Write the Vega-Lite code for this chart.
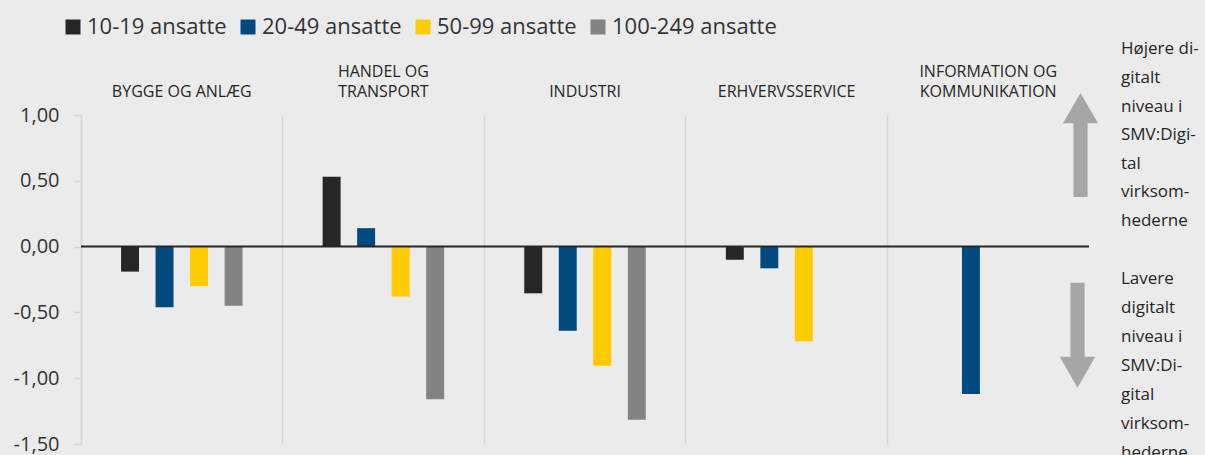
{
  "$schema": "https://vega.github.io/schema/vega-lite/v6.json",
  "width": 1008,
  "height": 329,
  "autosize": {"type": "none"},
  "padding": {"left": 81, "top": 115, "right": 116, "bottom": 11},
  "background": "#ebebeb",
  "config": {"view": {"stroke": null}, "font": "Open Sans"},
  "layer": [
    {
      "data": {
        "values": [
          {"sektor": "BYGGE OG ANLÆG", "gruppe": "10-19 ansatte", "vaerdi": -0.19},
          {"sektor": "BYGGE OG ANLÆG", "gruppe": "20-49 ansatte", "vaerdi": -0.46},
          {"sektor": "BYGGE OG ANLÆG", "gruppe": "50-99 ansatte", "vaerdi": -0.30},
          {"sektor": "BYGGE OG ANLÆG", "gruppe": "100-249 ansatte", "vaerdi": -0.45},
          {"sektor": "HANDEL OG TRANSPORT", "gruppe": "10-19 ansatte", "vaerdi": 0.53},
          {"sektor": "HANDEL OG TRANSPORT", "gruppe": "20-49 ansatte", "vaerdi": 0.14},
          {"sektor": "HANDEL OG TRANSPORT", "gruppe": "50-99 ansatte", "vaerdi": -0.38},
          {"sektor": "HANDEL OG TRANSPORT", "gruppe": "100-249 ansatte", "vaerdi": -1.16},
          {"sektor": "INDUSTRI", "gruppe": "10-19 ansatte", "vaerdi": -0.355},
          {"sektor": "INDUSTRI", "gruppe": "20-49 ansatte", "vaerdi": -0.64},
          {"sektor": "INDUSTRI", "gruppe": "50-99 ansatte", "vaerdi": -0.905},
          {"sektor": "INDUSTRI", "gruppe": "100-249 ansatte", "vaerdi": -1.315},
          {"sektor": "ERHVERVSSERVICE", "gruppe": "10-19 ansatte", "vaerdi": -0.10},
          {"sektor": "ERHVERVSSERVICE", "gruppe": "20-49 ansatte", "vaerdi": -0.165},
          {"sektor": "ERHVERVSSERVICE", "gruppe": "50-99 ansatte", "vaerdi": -0.72},
          {"sektor": "INFORMATION OG KOMMUNIKATION", "gruppe": "10-19 ansatte", "vaerdi": 0.0},
          {"sektor": "INFORMATION OG KOMMUNIKATION", "gruppe": "20-49 ansatte", "vaerdi": -1.12}
        ]
      },
      "mark": {"type": "bar"},
      "encoding": {
        "x": {
          "field": "sektor",
          "type": "nominal",
          "sort": null,
          "scale": {"paddingInner": 0, "paddingOuter": 0},
          "axis": {
            "orient": "top",
            "title": null,
            "domain": false,
            "ticks": false,
            "tickSize": 0,
            "grid": true,
            "gridColor": "#d6d6d6",
            "gridWidth": 1.5,
            "bandPosition": 0,
            "labelAngle": 0,
            "labelFontSize": 16,
            "labelColor": "#262626",
            "labelPadding": {"condition": {"test": "length(datum.value) > 16", "value": 36}, "value": 16},
            "labelBaseline": "bottom",
            "labelLineHeight": 20,
            "labelLimit": 0,
            "labelExpr": "length(datum.value) > 16 && indexof(datum.value, ' OG ') > 0 ? [substring(datum.value, 0, indexof(datum.value, ' OG ') + 3), substring(datum.value, indexof(datum.value, ' OG ') + 4)] : datum.value"
          }
        },
        "xOffset": {
          "field": "gruppe",
          "type": "nominal",
          "scale": {
            "domain": ["_før", "10-19 ansatte", "20-49 ansatte", "50-99 ansatte", "100-249 ansatte", "_efter"],
            "paddingInner": 0.48,
            "paddingOuter": 0.16
          }
        },
        "y": {
          "field": "vaerdi",
          "type": "quantitative",
          "scale": {"domain": [-1.5, 1], "nice": false, "zero": false},
          "axis": {
            "title": null,
            "values": [-1.5, -1, -0.5, 0, 0.5, 1],
            "grid": false,
            "domainColor": "#d6d6d6",
            "domainWidth": 1.5,
            "tickColor": "#d6d6d6",
            "tickWidth": 1.5,
            "tickSize": 8,
            "labelFontSize": 20,
            "labelColor": "#333333",
            "labelPadding": 14,
            "labelExpr": "replace(replace(format(datum.value, '.2f'), '.', ','), '\u2212', '-')"
          }
        },
        "color": {
          "field": "gruppe",
          "type": "nominal",
          "scale": {
            "domain": ["10-19 ansatte", "20-49 ansatte", "50-99 ansatte", "100-249 ansatte"],
            "range": ["#262626", "#004a80", "#ffca00", "#838383"]
          },
          "legend": {
            "title": null,
            "orient": "none",
            "direction": "horizontal",
            "legendX": -19,
            "legendY": -99,
            "padding": 0,
            "symbolType": "square",
            "symbolSize": 225,
            "symbolStrokeWidth": 0,
            "labelFontSize": 22,
            "labelColor": "#333333",
            "labelOffset": 3,
            "columnSpacing": 11,
            "labelLimit": 0
          }
        }
      }
    },
    {
      "data": {"values": [{}]},
      "mark": {"type": "rule", "color": "#262626", "strokeWidth": 2},
      "encoding": {"y": {"datum": 0}}
    },
    {
      "data": {"values": [{}]},
      "mark": {
        "type": "point",
        "shape": "M0,-1L0.337,-0.42L0.135,-0.42L0.135,1L-0.135,1L-0.135,-0.42L-0.337,-0.42Z",
        "filled": true,
        "size": 10816,
        "color": "#a6a6a6",
        "opacity": 1,
        "strokeWidth": 0,
        "xOffset": -8.5
      },
      "encoding": {"x": {"value": "width"}, "y": {"datum": 0.772}}
    },
    {
      "data": {"values": [{}]},
      "mark": {
        "type": "point",
        "shape": "M0,1L0.337,0.41L0.135,0.41L0.135,-1L-0.135,-1L-0.135,0.41L-0.337,0.41Z",
        "filled": true,
        "size": 11025,
        "color": "#a6a6a6",
        "opacity": 1,
        "strokeWidth": 0,
        "xOffset": -11.5
      },
      "encoding": {"x": {"value": "width"}, "y": {"datum": -0.674}}
    },
    {
      "data": {"values": [{}]},
      "mark": {
        "type": "text",
        "align": "left",
        "baseline": "alphabetic",
        "fontSize": 17,
        "lineHeight": 28.6,
        "color": "#262626",
        "dx": 32
      },
      "encoding": {
        "x": {"value": "width"},
        "y": {"datum": 1.461},
        "text": {"value": ["Højere di-", "gitalt", "niveau i", "SMV:Digi-", "tal", "virksom-", "hederne"]}
      }
    },
    {
      "data": {"values": [{}]},
      "mark": {
        "type": "text",
        "align": "left",
        "baseline": "alphabetic",
        "fontSize": 17,
        "lineHeight": 29,
        "color": "#262626",
        "dx": 32
      },
      "encoding": {
        "x": {"value": "width"},
        "y": {"datum": -0.285},
        "text": {"value": ["Lavere", "digitalt", "niveau i", "SMV:Di-", "gital", "virksom-", "hederne"]}
      }
    }
  ]
}
